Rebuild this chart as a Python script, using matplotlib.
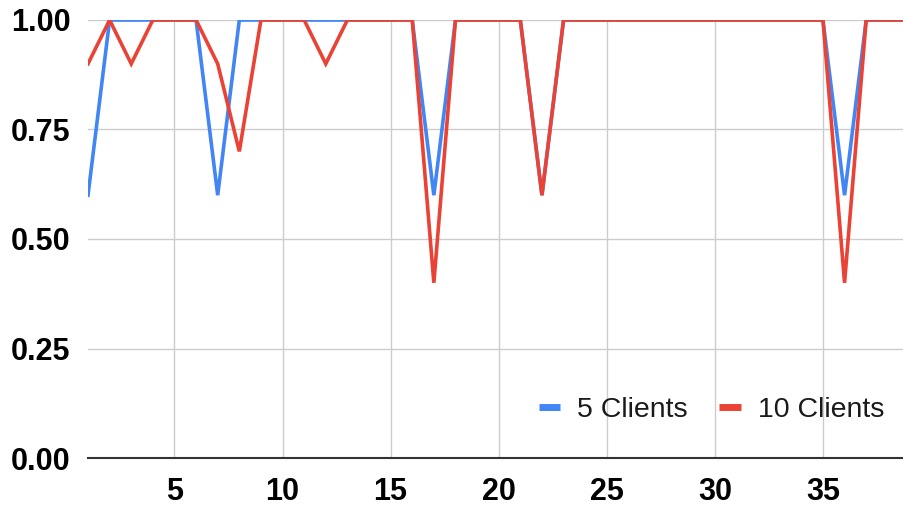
import numpy as np
import matplotlib.pyplot as plt
from matplotlib.lines import Line2D

plt.rcParams['font.family'] = ['Liberation Sans', 'DejaVu Sans']

rounds = list(range(1, 40))
clients_5 = [0.6, 1, 1, 1, 1, 1, 0.6, 1, 1, 1,
             1, 1, 1, 1, 1, 1, 0.6, 1, 1, 1,
             1, 0.6, 1, 1, 1, 1, 1, 1, 1, 1,
             1, 1, 1, 1, 1, 0.6, 1, 1, 1]
clients_10 = [0.9, 1, 0.9, 1, 1, 1, 0.9, 0.7, 1, 1,
              1, 0.9, 1, 1, 1, 1, 0.4, 1, 1, 1,
              1, 0.6, 1, 1, 1, 1, 1, 1, 1, 1,
              1, 1, 1, 1, 1, 0.4, 1, 1, 1]
x_ticks = [5, 10, 15, 20, 25, 30, 35]
y_ticks = [0, 0.25, 0.5, 0.75, 1.0]

blue = '#4285F4'
red = '#EA4335'

fig = plt.figure(figsize=(9.04, 5.08), dpi=100)
ax = fig.add_axes([88/904, 1-458/508, 1-88/904, 438/508])

ax.plot(rounds, clients_5, color=blue, lw=2.6, solid_joinstyle='miter', zorder=3)
ax.plot(rounds, clients_10, color=red, lw=2.6, solid_joinstyle='miter', zorder=4)

ax.set_xlim(1, 38.75)
ax.set_ylim(0, 1)
ax.set_xticks(x_ticks)
ax.set_yticks(y_ticks)
ax.set_yticklabels([f"{v:.2f}" for v in y_ticks])
ax.grid(True, color='#cccccc', lw=1)
ax.set_axisbelow(True)
for s in ['top', 'right', 'left']:
    ax.spines[s].set_visible(False)
ax.spines['bottom'].set_color('#333333')
ax.spines['bottom'].set_linewidth(1.5)
ax.spines['bottom'].set_zorder(5)
ax.tick_params(length=0, labelsize=22, pad=12.5)
ax.tick_params(axis='x', pad=13.5)
for lab in ax.get_xticklabels() + ax.get_yticklabels():
    lab.set_fontweight('bold')

handles = [Line2D([], [], color=blue, lw=5, solid_capstyle='butt'),
           Line2D([], [], color=red, lw=5, solid_capstyle='butt')]
leg = ax.legend(handles, ['5 Clients', '10 Clients'], loc='center right',
                bbox_to_anchor=(1.0 - 20/816, 48/438), ncol=2, frameon=False,
                fontsize=20.5, handlelength=0.75, handletextpad=0.6,
                columnspacing=1.1, borderpad=0, borderaxespad=0)
for t in leg.get_texts():
    t.set_color('#1a1a1a')

plt.savefig('out.png', dpi=100)
